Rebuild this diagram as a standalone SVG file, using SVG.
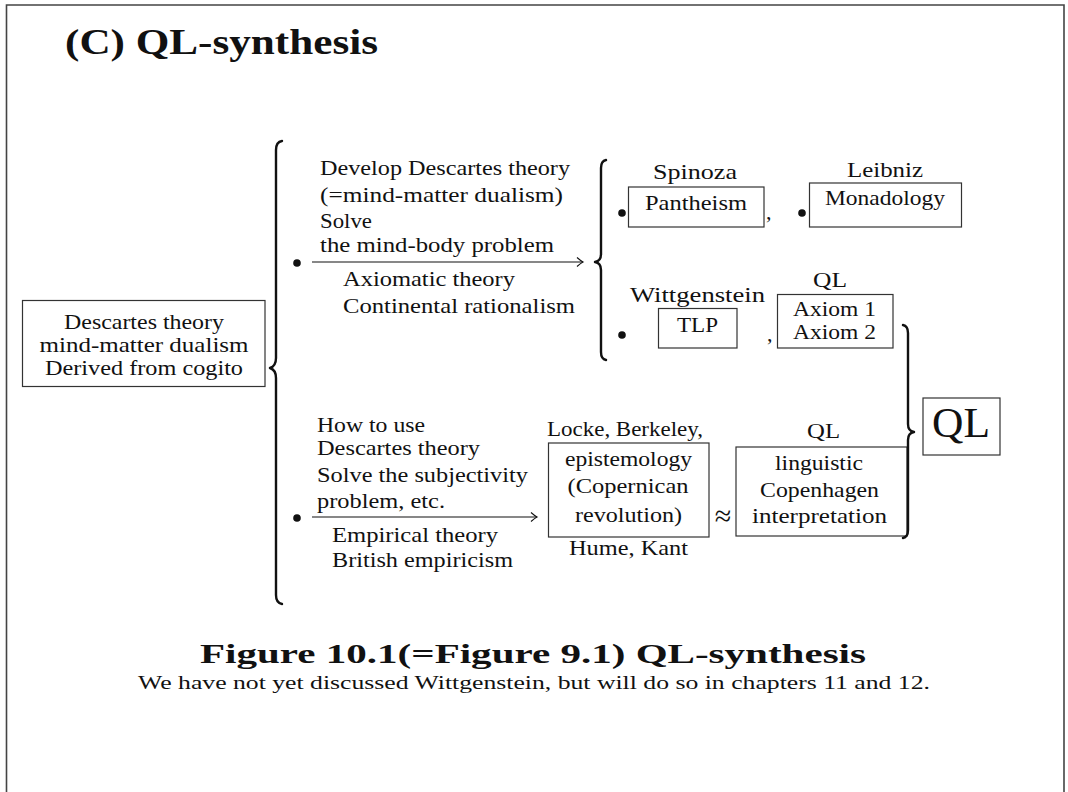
<svg xmlns="http://www.w3.org/2000/svg" width="1068" height="792" viewBox="0 0 1068 792">
  <style>
    text { font-family: "Liberation Serif", "Times New Roman", serif; fill: #111; }
    .t { font-size: 22px; }
    .s { font-size: 20px; }
    .c { text-anchor: middle; }
    .box { fill: none; stroke: #333; stroke-width: 1.2; }
    .brace { fill: none; stroke: #111; stroke-width: 2.4; stroke-linecap: round; stroke-linejoin: round; }
    .arrow { fill: none; stroke: #111; stroke-width: 1.2; marker-end: url(#head); }
    .dot { fill: #111; }
    .frame { fill: none; stroke: #444; stroke-width: 1.6; }
  </style>
  <defs>
    <marker id="head" markerWidth="12" markerHeight="12" refX="0" refY="0" viewBox="-8 -6 10 12" orient="auto" markerUnits="userSpaceOnUse">
      <path d="M -6,-4.5 Q -2,-1 0,0 Q -2,1 -6,4.5" fill="none" stroke="#111" stroke-width="1.1"/>
    </marker>
  </defs>

  <rect width="1068" height="792" fill="#fff"/>
  <!-- page frame: left, top and right edges -->
  <path class="frame" d="M 6.5,800 L 6.5,5 L 1064,5 L 1064,800"/>

  <!-- heading -->
  <text x="65" y="54" font-size="36" font-weight="bold" textLength="313" lengthAdjust="spacingAndGlyphs">(C) QL-synthesis</text>

  <!-- root: Descartes theory -->
  <g id="descartes">
    <rect class="box" x="22.5" y="300.5" width="242.5" height="86"/>
    <text class="t c" x="144" y="329" textLength="160" lengthAdjust="spacingAndGlyphs">Descartes theory</text>
    <text class="t c" x="144" y="352" textLength="209" lengthAdjust="spacingAndGlyphs">mind-matter dualism</text>
    <text class="t c" x="144" y="375" textLength="198" lengthAdjust="spacingAndGlyphs">Derived from cogito</text>
  </g>

  <!-- upper branch: rationalism -->
  <g id="branch-rationalism">
    <circle class="dot" cx="297" cy="263" r="3.8"/>
    <text class="t" x="320" y="175" textLength="250" lengthAdjust="spacingAndGlyphs">Develop Descartes theory</text>
    <text class="t" x="320" y="202" textLength="243" lengthAdjust="spacingAndGlyphs">(=mind-matter dualism)</text>
    <text class="t" x="320" y="228" textLength="52" lengthAdjust="spacingAndGlyphs">Solve</text>
    <text class="t" x="320" y="252" textLength="234" lengthAdjust="spacingAndGlyphs">the mind-body problem</text>
    <text class="t" x="343" y="286" textLength="172" lengthAdjust="spacingAndGlyphs">Axiomatic theory</text>
    <text class="t" x="343" y="313" textLength="232" lengthAdjust="spacingAndGlyphs">Continental rationalism</text>
  </g>

  <!-- lower branch: empiricism -->
  <g id="branch-empiricism">
    <circle class="dot" cx="297" cy="518" r="3.8"/>
    <text class="t" x="317" y="432" textLength="108" lengthAdjust="spacingAndGlyphs">How to use</text>
    <text class="t" x="317" y="455" textLength="163" lengthAdjust="spacingAndGlyphs">Descartes theory</text>
    <text class="t" x="317" y="482" textLength="211" lengthAdjust="spacingAndGlyphs">Solve the subjectivity</text>
    <text class="t" x="317" y="508" textLength="128" lengthAdjust="spacingAndGlyphs">problem, etc.</text>
    <text class="t" x="332" y="542" textLength="166" lengthAdjust="spacingAndGlyphs">Empirical theory</text>
    <text class="t" x="332" y="567" textLength="181" lengthAdjust="spacingAndGlyphs">British empiricism</text>
  </g>

  <!-- Spinoza -->
  <g id="spinoza">
    <circle class="dot" cx="622" cy="213" r="3.8"/>
    <text class="t c" x="695" y="179" textLength="84" lengthAdjust="spacingAndGlyphs">Spinoza</text>
    <rect class="box" x="628.5" y="187" width="135.5" height="40"/>
    <text class="t c" x="696" y="210" textLength="102" lengthAdjust="spacingAndGlyphs">Pantheism</text>
    <text class="t" x="766" y="219">,</text>
  </g>

  <!-- Leibniz -->
  <g id="leibniz">
    <circle class="dot" cx="802" cy="213" r="3.8"/>
    <text class="t c" x="885" y="177" textLength="76" lengthAdjust="spacingAndGlyphs">Leibniz</text>
    <rect class="box" x="809.5" y="183" width="152" height="44"/>
    <text class="t c" x="885" y="205" textLength="120" lengthAdjust="spacingAndGlyphs">Monadology</text>
  </g>

  <!-- Wittgenstein -->
  <g id="wittgenstein">
    <circle class="dot" cx="622" cy="335" r="3.8"/>
    <text class="t c" x="697.5" y="302" textLength="135" lengthAdjust="spacingAndGlyphs">Wittgenstein</text>
    <rect class="box" x="658.5" y="308.5" width="78.5" height="39.5"/>
    <text class="t c" x="697.5" y="332" textLength="41" lengthAdjust="spacingAndGlyphs">TLP</text>
    <text class="t" x="767" y="341">,</text>
  </g>

  <!-- QL axioms -->
  <g id="ql-axioms">
    <text class="t c" x="830" y="287" textLength="34" lengthAdjust="spacingAndGlyphs">QL</text>
    <rect class="box" x="777.5" y="294.5" width="115.5" height="53.5"/>
    <text class="s c" x="834.5" y="316" textLength="83" lengthAdjust="spacingAndGlyphs">Axiom 1</text>
    <text class="s c" x="834.5" y="339" textLength="83" lengthAdjust="spacingAndGlyphs">Axiom 2</text>
  </g>

  <!-- Locke, Berkeley, Hume, Kant -->
  <g id="epistemology">
    <text class="t c" x="625" y="436" textLength="156" lengthAdjust="spacingAndGlyphs">Locke, Berkeley,</text>
    <rect class="box" x="548.5" y="443" width="160.5" height="94"/>
    <text class="t c" x="628.5" y="466" textLength="127" lengthAdjust="spacingAndGlyphs">epistemology</text>
    <text class="t c" x="628" y="493" textLength="121" lengthAdjust="spacingAndGlyphs">(Copernican</text>
    <text class="t c" x="628.5" y="522" textLength="107" lengthAdjust="spacingAndGlyphs">revolution)</text>
    <text class="t c" x="628.5" y="555" textLength="119" lengthAdjust="spacingAndGlyphs">Hume, Kant</text>
  </g>

  <text class="c" x="723" y="526" font-size="30">≈</text>

  <!-- QL linguistic Copenhagen interpretation -->
  <g id="ql-copenhagen">
    <text class="t c" x="823.5" y="438" textLength="33" lengthAdjust="spacingAndGlyphs">QL</text>
    <rect class="box" x="736" y="447" width="171" height="89"/>
    <text class="t c" x="819" y="470" textLength="88" lengthAdjust="spacingAndGlyphs">linguistic</text>
    <text class="t c" x="819.5" y="497" textLength="119" lengthAdjust="spacingAndGlyphs">Copenhagen</text>
    <text class="t c" x="819.5" y="523" textLength="135" lengthAdjust="spacingAndGlyphs">interpretation</text>
  </g>

  <!-- QL synthesis result -->
  <g id="ql">
    <rect class="box" x="923" y="398" width="77" height="57"/>
    <text class="c" x="961" y="437" font-size="43" textLength="58" lengthAdjust="spacingAndGlyphs">QL</text>
  </g>

  <!-- connectors: braces and arrows -->
  <g id="connectors">
    <path class="brace" d="M 282,141 Q 276,142 276,150 L 276,358 Q 276,366 270,368 Q 276,370 276,378 L 276,595 Q 276,603 282,604"/>
    <path class="brace" d="M 606,160 Q 601,161 601,168 L 601,254 Q 601,261 595,262 Q 601,263 601,270 L 601,352 Q 601,359 606,360"/>
    <path class="brace" d="M 903,325 Q 908,326 908,333 L 908,424 Q 908,431 914,432 Q 908,433 908,440 L 908,530 Q 908,537 903,538"/>
    <line class="arrow" x1="312" y1="262" x2="583" y2="262"/>
    <line class="arrow" x1="312" y1="517" x2="537" y2="517"/>
  </g>

  <!-- caption -->
  <text class="c" x="533" y="663" font-size="28" font-weight="bold" textLength="666" lengthAdjust="spacingAndGlyphs">Figure 10.1(=Figure 9.1) QL-synthesis</text>
  <text class="c" x="534" y="689" font-size="18" textLength="792" lengthAdjust="spacingAndGlyphs">We have not yet discussed Wittgenstein, but will do so in chapters 11 and 12.</text>
</svg>
